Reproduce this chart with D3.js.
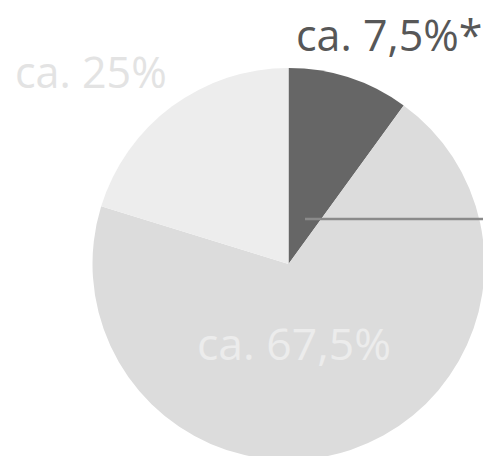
<!DOCTYPE html>
<html>
<head>
<meta charset="utf-8">
<script src="https://cdn.jsdelivr.net/npm/d3@7"></script>
<style>
body { margin: 0; background: #fff; }
text { font-family: "Open Sans", sans-serif; }
</style>
</head>
<body>
<div id="chart"></div>
<script>
// shares as drawn in the pie (clockwise from 12 o'clock)
var categories = ["a", "b", "c"];
var values = [10, 69.75, 20.25];
var labels = ["ca. 7,5%*", "ca. 67,5%", "ca. 25%"];

var width = 483,
    height = 456,
    cx = 288.5,
    cy = 264,
    radius = 196;

var colors = d3.scaleOrdinal()
    .domain(categories)
    .range(["#666666", "#dcdcdc", "#ededed"]);

var data = categories.map(function(c, i) {
    return {name: c, value: values[i], label: labels[i]};
});

var svg = d3.select("#chart")
    .append("svg")
    .attr("width", width)
    .attr("height", height);

var pie = d3.pie()
    .sort(null)
    .value(function(d) { return d.value });

var arc = d3.arc()
    .innerRadius(0)
    .outerRadius(radius);

var g = svg.append("g")
    .attr("transform", "translate(" + cx + "," + cy + ")");

g.selectAll("path")
    .data(pie(data))
    .enter()
    .append("path")
    .attr("d", arc)
    .attr("fill", function(d) { return colors(d.data.name) });

// pointer line
svg.append("line")
    .attr("x1", 305)
    .attr("x2", width)
    .attr("y1", 219)
    .attr("y2", 219)
    .attr("stroke", "#8a8a8a")
    .attr("stroke-width", 2.5);

// labels
var labelPos = [
    {x: 296, y: 51, size: 43, color: "#575757", weight: 500},
    {x: 197, y: 360, size: 44.5, color: "#ececec", weight: 400},
    {x: 15, y: 88, size: 43, color: "#e3e3e3", weight: 400}
];

svg.selectAll("text.label")
    .data(data)
    .enter()
    .append("text")
    .attr("class", "label")
    .attr("x", function(d, i) { return labelPos[i].x })
    .attr("y", function(d, i) { return labelPos[i].y })
    .attr("font-size", function(d, i) { return labelPos[i].size })
    .attr("font-weight", function(d, i) { return labelPos[i].weight })
    .attr("fill", function(d, i) { return labelPos[i].color })
    .text(function(d) { return d.label });
</script>
</body>
</html>
